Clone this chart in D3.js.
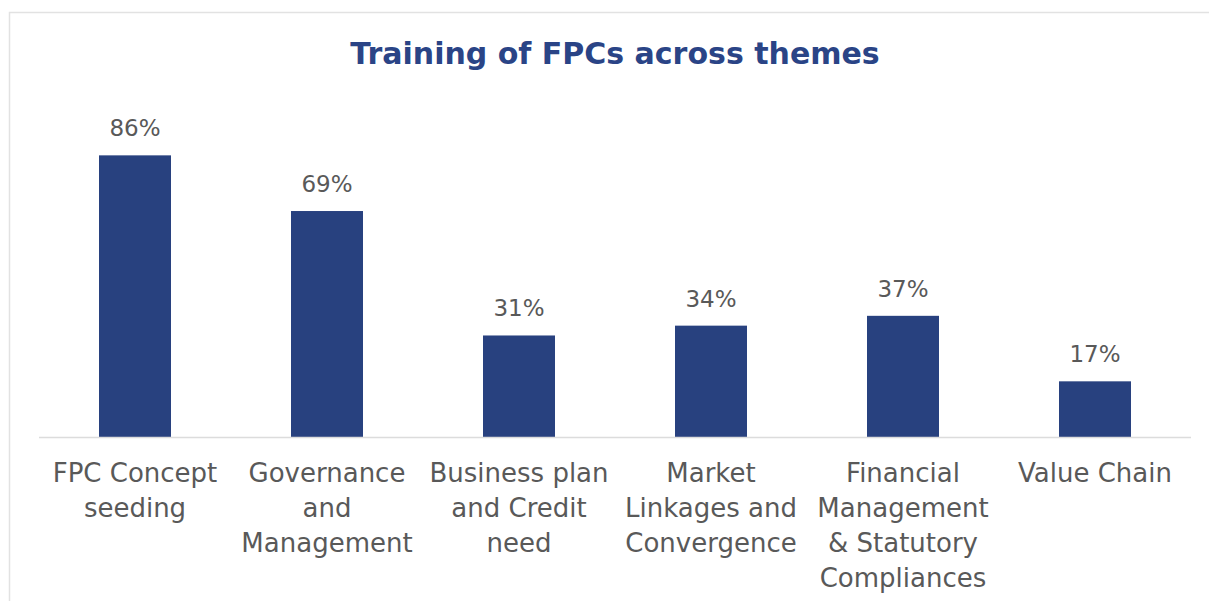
<!DOCTYPE html>
<html>
<head>
    <meta charset="utf-8">
    <title>Training of FPCs across themes</title>
    <script src="https://d3js.org/d3.v7.min.js"></script>
    <style>
        body { margin: 0; background: #fff; }
        svg { display: block; }
    </style>
</head>
<body>
<svg id="chart" width="1209" height="601"></svg>
<script>
    var themes = [
        "FPC Concept\nseeding",
        "Governance\nand\nManagement",
        "Business plan\nand Credit\nneed",
        "Market\nLinkages and\nConvergence",
        "Financial\nManagement\n& Statutory\nCompliances",
        "Value Chain"
    ];
    var shares = [86, 69, 31, 34, 37, 17];

    var svg = d3.select("#chart");
    var barColor = "#28417f";
    var textColor = "#595959";

    // outer frame (only top and left edges fall inside the picture)
    svg.append("rect")
        .attr("x", 9.5).attr("y", 12.5)
        .attr("width", 1400).attr("height", 800)
        .style("fill", "none")
        .style("stroke", "#e2e2e2")
        .style("stroke-width", 1.5);

    svg.append("text")
        .attr("x", 615)
        .attr("y", 64)
        .attr("text-anchor", "middle")
        .style("font-family", "DejaVu Sans")
        .style("font-weight", "bold")
        .style("font-size", "30px")
        .style("fill", "#2a4486")
        .text("Training of FPCs across themes");

    var x = d3.scaleBand()
        .domain(themes)
        .range([39, 1191])
        .paddingInner(0.625)
        .paddingOuter(0.3125);

    var y = d3.scaleLinear()
        .domain([0, 100])
        .range([437, 109.5]);

    svg.append("g")
        .selectAll("rect")
        .data(shares)
        .enter().append("rect")
        .attr("x", function(d, i) { return x(themes[i]); })
        .attr("y", function(d) { return y(d); })
        .attr("width", x.bandwidth())
        .attr("height", function(d) { return y(0) - y(d); })
        .style("fill", barColor);

    svg.append("line")
        .attr("x1", 39).attr("x2", 1191)
        .attr("y1", 437.5).attr("y2", 437.5)
        .style("stroke", "#dcdcdc")
        .style("stroke-width", 1.5);

    svg.append("g")
        .selectAll("text")
        .data(shares)
        .enter().append("text")
        .attr("x", function(d, i) { return x(themes[i]) + x.bandwidth() / 2; })
        .attr("y", function(d) { return y(d) - 19; })
        .attr("text-anchor", "middle")
        .style("font-family", "DejaVu Sans")
        .style("font-size", "23px")
        .style("fill", textColor)
        .text(function(d) { return d + "%"; });

    var labels = svg.append("g")
        .selectAll("text")
        .data(themes)
        .enter().append("text")
        .attr("text-anchor", "middle")
        .style("font-family", "DejaVu Sans")
        .style("font-size", "26px")
        .style("fill", textColor);

    labels.selectAll("tspan")
        .data(function(d) { return d.split("\n").map(function(s) { return { line: s, theme: d }; }); })
        .enter().append("tspan")
        .attr("x", function(d) { return x(d.theme) + x.bandwidth() / 2; })
        .attr("y", function(d, i) { return 482 + i * 35; })
        .text(function(d) { return d.line; });
</script>
</body>
</html>
